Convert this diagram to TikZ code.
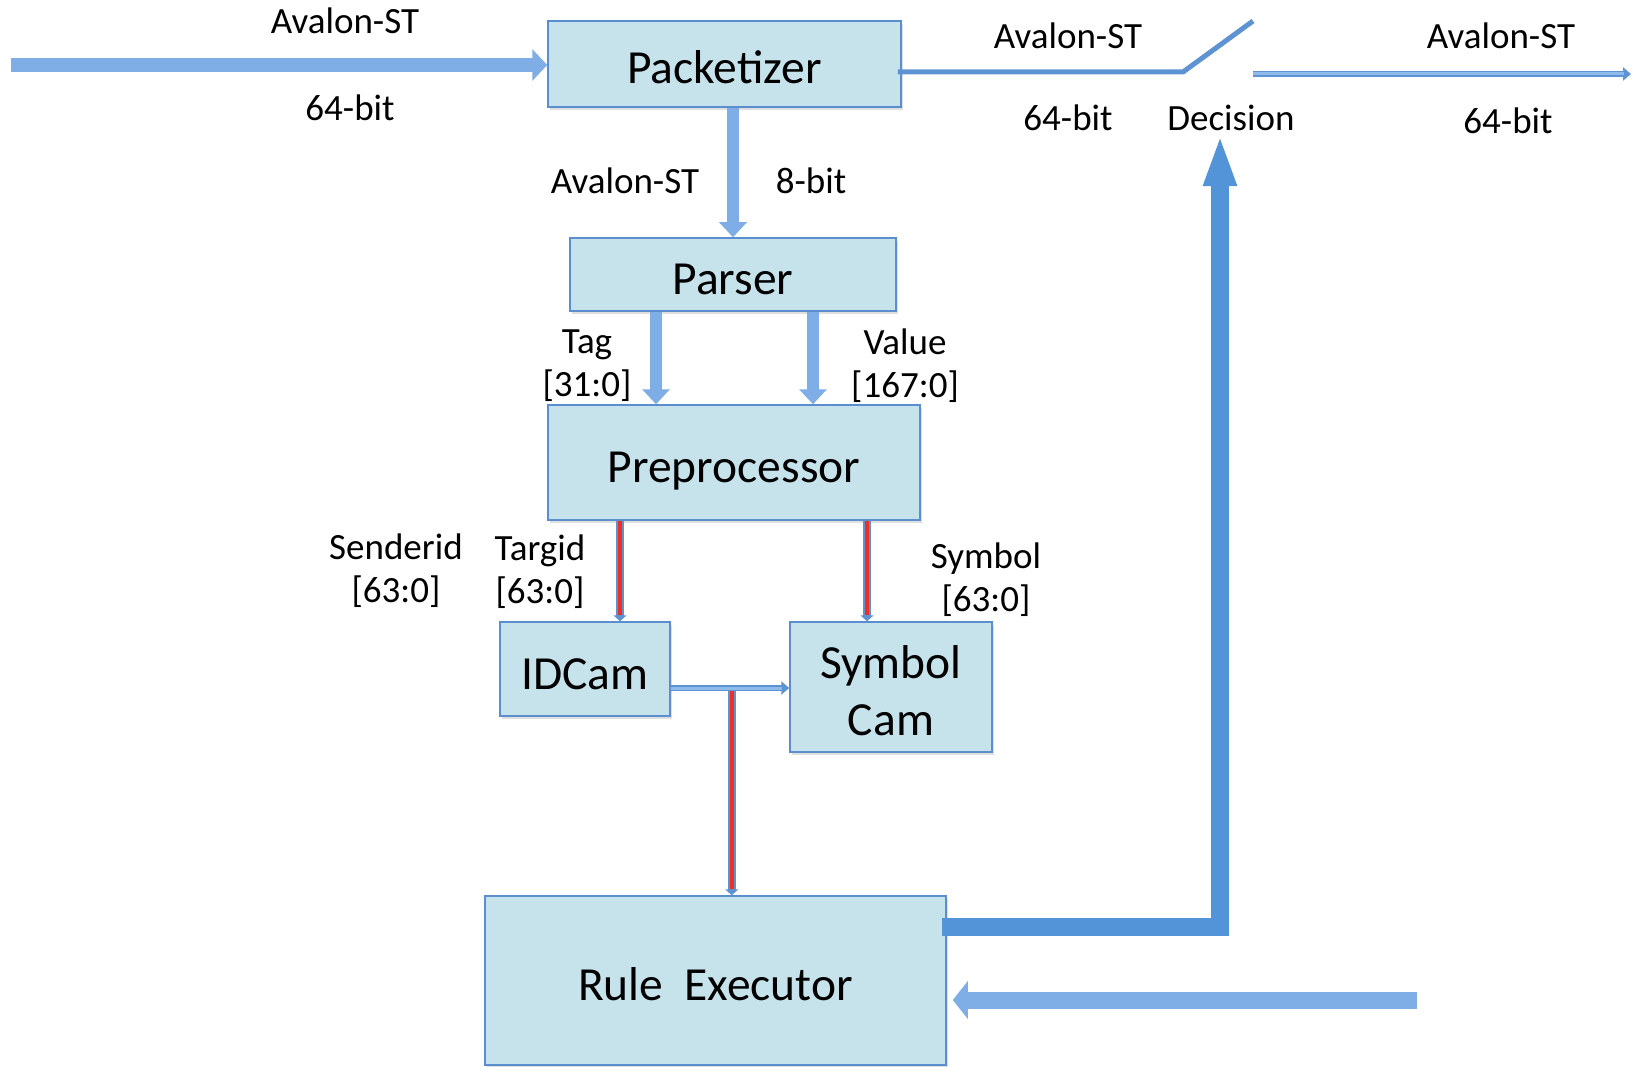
\documentclass[tikz,border=0pt]{standalone}
\usepackage{fontspec}
\setmainfont{Carlito}
\usetikzlibrary{arrows.meta, shadows}

\definecolor{boxfill}{HTML}{C6E3EC}
\definecolor{boxedge}{HTML}{5B8ECF}
\definecolor{arrowblue}{HTML}{7FAEE6}
\definecolor{busblue}{HTML}{5D93D3}
\definecolor{busfill}{HTML}{8FBAEC}
\definecolor{redline}{HTML}{F0301E}
\definecolor{decblue}{HTML}{5393D8}

\newcommand{\boxfont}{\fontsize{47.5}{57}\selectfont}
\newcommand{\labfont}{\fontsize{37}{43}\selectfont}

\begin{document}
\begin{tikzpicture}[x=1pt, y=-1pt,
        block/.style={draw=boxedge, fill=boxfill, line width=1.5pt, inner sep=0pt, align=center, font=\boxfont,
                drop shadow={shadow xshift=2pt, shadow yshift=-3pt, opacity=.25}},
        oneline/.style={text height=40pt, text depth=0pt},
        lab/.style={inner sep=0pt, align=center, font=\labfont},
        fatarrow/.style={draw=arrowblue, line width=#1, -{Triangle[length=15pt, width=3pt 2]}},
        fatarrow/.default=14pt,
        decarrow/.style={draw=decblue, line width=18pt, -{Triangle[length=52pt, width=30pt]}},
        thinbus/.style={draw=busfill, line width=3pt, shorten >=7pt,
                preaction={draw=busblue, line width=6.5pt, shorten >=0pt, -{Triangle[length=8pt, width=13pt]}}},
        redbus/.style={draw=redline, line width=4.5pt, shorten >=6pt,
                preaction={draw=busblue, line width=7.5pt, shorten >=0pt, -{Triangle[length=6pt, width=13pt]}}},
        switchline/.style={draw=busblue, line width=5pt}]
        \useasboundingbox (0,0) rectangle (1635,1067);

        % blocks
        \node[block, oneline, minimum width=353pt, minimum height=86pt] (pkt) at (724.5,64) {Packetizer};
        \node[block, oneline, minimum width=326pt, minimum height=73pt] (parser) at (733,274.5) {Parser};
        \node[block, oneline, minimum width=372pt, minimum height=115pt] (prep) at (734,462.5) {Preprocessor};
        \node[block, oneline, minimum width=170pt, minimum height=94pt] (idcam) at (585,669) {IDCam};
        \node[block, text height=96pt, text depth=0pt, minimum width=202pt, minimum height=130pt] (symcam) at (891,687) {Symbol\\Cam};
        \node[block, oneline, minimum width=461pt, minimum height=169pt] (rule) at (715.5,980.5) {Rule\ \ Executor};

        % labels
        \node[lab] (avin) at (345,21) {Avalon-ST};
        \node[lab] (bitin) at (350,108) {64-bit};
        \node[lab] (avpk) at (625,181) {Avalon-ST};
        \node[lab] (bitpk) at (811,181) {8-bit};
        \node[lab] (avmid) at (1068,36) {Avalon-ST};
        \node[lab] (bitmid) at (1068,118) {64-bit};
        \node[lab] (dec) at (1231,118) {Decision};
        \node[lab] (avout) at (1501,36) {Avalon-ST};
        \node[lab] (bitout) at (1508,121) {64-bit};
        \node[lab] (tag) at (587,366) {Tag\\{}[31:0]};
        \node[lab] (value) at (905,366) {Value\\{}[167:0]};
        \node[lab] (sender) at (396,571) {Senderid\\{}[63:0]};
        \node[lab] (targ) at (540,572) {Targid\\{}[63:0]};
        \node[lab] (symb) at (986,580) {Symbol\\{}[63:0]};

        % free ends and taps
        \coordinate (instart) at (11,65);
        \coordinate (swpivot) at (1183,72);
        \coordinate (swtip) at (1253,21);
        \coordinate (outstart) at (1253,74);
        \coordinate (outend) at (1631,74);
        \coordinate (fbstart) at (1417,1000);
        \coordinate (tagtop) at ([xshift=-77pt]parser.south);
        \coordinate (valtop) at ([xshift=80pt]parser.south);
        \coordinate (idtop) at ([xshift=35pt]idcam.north);
        \coordinate (symtop) at ([xshift=-24pt]symcam.north);
        \coordinate (idout) at ([yshift=-19pt]idcam.east);
        \coordinate (tap) at ([xshift=61pt]idout);
        \coordinate (decout) at ([xshift=-5pt, yshift=53.5pt]rule.east);
        \coordinate (dectip) at ([xshift=-11pt, yshift=-3pt]dec.south);

        % data path
        \draw[fatarrow] (instart) -- (instart -| pkt.west);
        \draw[fatarrow=12pt] (parser.north |- pkt.south) -- (parser.north);
        \draw[fatarrow=12pt] (tagtop) -- (tagtop |- prep.north);
        \draw[fatarrow=12pt] (valtop) -- (valtop |- prep.north);
        \draw[redbus] (idtop |- prep.south) -- (idtop);
        \draw[redbus] (symtop |- prep.south) -- (symtop);
        \draw[redbus] (tap) -- (tap |- rule.north);
        \draw[thinbus] (idout) -- (idout -| symcam.west);

        % output switch
        \draw[switchline] ([xshift=-4pt, yshift=-8pt]pkt.east) -- (swpivot) -- (swtip);
        \draw[thinbus] (outstart) -- (outend);

        % decision and feedback
        \draw[decarrow] (decout) -| (dectip);
        \draw[fatarrow=17pt, shorten >=6pt] (fbstart) -- (fbstart -| rule.east);
\end{tikzpicture}
\end{document}
